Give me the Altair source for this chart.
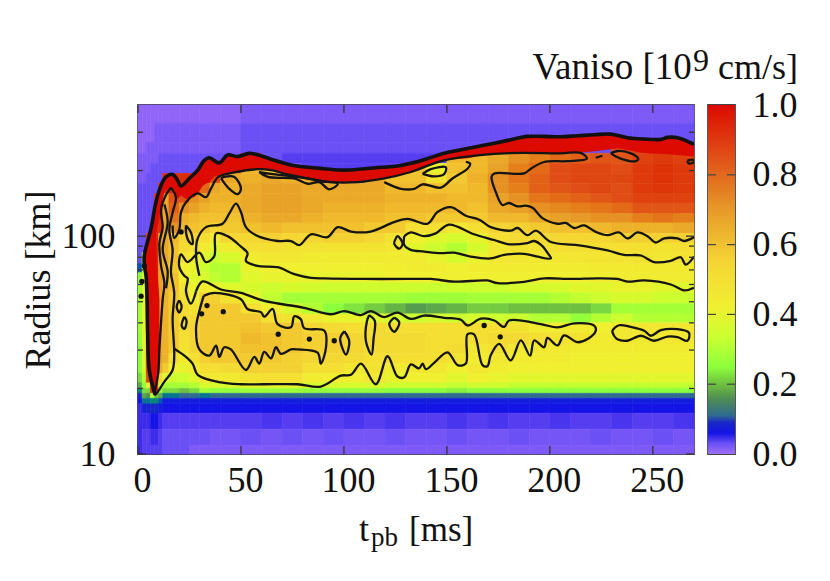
import altair as alt
import pandas as pd

FONT = "Liberation Serif"
# time column edges (ms) and radius row edges (km), top to bottom
time_edges = [0,2,4,6,8,10,12,15,20,25,30,35,40,50,60,70,80,90,100,110,120,130,140,150,160,170,180,190,200,210,220,230,240,250,260,270]
radius_edges = [400,330,270,240,216,194,175,157,142,127,115,103,93,84,75,68,61,55,49,44,40,36,32,29,26,23.5,21.2,20,19,18,17,15.4,13,11,10]
# Vaniso x 100 for each time column, from the largest radius to the smallest
columns = [
[1,1,1,2,2,2,3,3,3,3,3,3,3,3,10,25,28,28,28,28,28,26,25,25,25,22,18,14,8,6,5,5,5,5],
[1,1,1,2,2,2,3,3,3,3,3,3,3,30,35,38,38,38,38,38,38,38,38,38,36,30,25,22,18,12,8,5,4,4],
[1,1,2,2,2,3,3,3,3,3,3,95,95,95,95,95,95,95,95,95,95,95,95,95,95,90,40,22,16,12,8,5,4,4],
[1,1,2,2,3,3,3,3,3,3,3,95,95,95,95,95,95,95,95,95,95,95,95,95,95,95,95,95,30,14,9,6,5,4],
[1,2,2,2,3,3,3,95,95,95,95,95,95,95,95,95,95,95,95,95,95,95,95,95,95,95,95,95,20,14,9,6,5,4],
[1,2,2,3,3,3,95,95,95,95,95,68,68,68,68,68,68,68,68,68,68,68,68,68,66,55,35,25,18,10,7,5,4,4],
[1,2,2,3,3,95,95,66,66,66,66,66,66,66,64,64,64,64,64,64,64,64,64,64,58,38,28,22,12,7,6,4,3,3],
[1,2,2,3,3,95,95,85,82,78,72,62,60,60,58,60,60,58,58,58,58,58,58,50,42,34,28,22,12,7,6,4,3,3],
[1,2,2,3,3,95,95,85,72,64,62,55,52,47,42,42,47,50,52,52,52,50,48,44,40,34,28,20,11,7,6,4,3,3],
[1,2,2,3,3,95,90,72,68,62,60,55,50,42,40,38,40,42,48,52,55,55,55,50,45,38,30,22,11,7,6,4,3,2],
[1,2,2,3,95,95,80,68,64,60,58,50,44,38,34,36,44,56,58,58,58,58,58,56,50,46,36,28,12,7,6,4,3,2],
[1,2,2,3,95,88,66,64,62,60,55,44,38,33,30,32,42,56,58,58,58,58,58,58,50,46,36,26,11,7,6,4,2.5,2],
[1,2,2,3,95,66,64,64,62,60,58,54,44,36,30,30,38,48,58,58,58,58,58,58,52,45,36,26,11,7,6,4,2.5,2],
[2,3,3,95,62,64,66,66,66,64,60,54,50,44,40,38,36,40,50,58,60,62,60,58,56,48,38,27,11,7,6,4,3,2],
[2,3,3,3,60,66,68,68,68,66,62,56,50,46,42,40,34,32,44,50,58,60,60,58,56,50,38,27,11,7,6,4.5,2.5,2],
[2,3,3,4,3,64,68,68,68,66,60,54,48,46,42,40,36,28,36,48,58,58,58,56,56,50,38,27,11,7,6,4,3,2],
[2,3,3,4,4,66,66,66,66,64,60,54,48,44,42,40,35,28,30,46,54,56,56,54,50,44,36,26,11,7,6,4.5,2.5,2],
[2,3,3,4,4,3,66,66,64,62,60,56,48,44,42,40,34,28,25,40,52,56,56,54,50,44,36,26,11,7,6,4,3,2],
[2,3,3,4,4,3,66,66,64,62,60,56,48,44,42,40,34,28,23,40,50,54,54,52,46,42,36,26,11,7,6,4.5,2.5,2],
[2,3,3,4,4,66,66,66,64,62,58,54,48,44,42,40,34,28,21,38,52,52,52,50,48,46,36,26,11,7,6,4,2.5,2],
[2,3,3,4,4,60,62,64,62,60,58,48,46,44,43,42,34,28,19,36,50,52,52,50,44,40,34,25,11,7,6,4.5,3,2],
[2,3,3,4,60,60,62,64,62,60,50,42,38,44,44,42,34,27,17,34,50,52,52,50,46,42,34,25,11,7,6,4,2.5,2],
[2,3,3,4,40,48,60,64,62,58,50,38,34,40,44,42,33,27,18,36,50,50,50,50,46,42,34,25,11,7,6,4,2.5,2],
[2,3,3,62,60,58,60,62,62,58,46,36,30,36,42,42,34,27,19,34,50,50,52,48,42,38,32,24,11,7,6,4.5,3,2],
[2,3,3,62,62,64,62,62,60,58,50,40,36,40,44,42,34,28,21,36,50,50,46,44,46,42,34,25,11,7,6,4,2.5,2],
[2,3,3,66,68,72,72,68,66,62,55,50,46,46,44,42,34,28,21,34,50,52,50,46,44,40,34,25,11,7,6,4.5,2.5,2],
[2,3,3,72,76,78,76,72,68,62,56,52,48,46,44,42,36,28,20,34,48,52,46,44,42,38,32,25,11,7,6,4,3,2],
[2,3,3,76,80,82,82,78,72,66,58,52,48,46,44,42,36,28,20,30,44,50,46,44,42,38,32,25,11,7,6,4,2.5,2],
[2,3,3,80,86,86,84,80,74,68,60,54,50,46,44,42,36,30,20,30,44,48,46,44,42,38,32,25,11,7,6,4.5,2.5,2],
[2,3,3,82,88,88,86,82,76,70,60,54,50,47,44,42,38,32,20,26,44,48,44,42,42,38,32,25,11,7,6,4,2.5,2],
[2,3,3,84,88,88,88,84,78,72,62,54,50,47,45,43,38,34,22,30,42,44,44,42,42,38,32,25,11,7,6,4,3,2],
[2,3,86,84,86,88,86,86,80,72,64,56,50,47,45,44,40,36,28,34,46,46,44,42,42,38,32,25,11,7,6,4.5,2.5,2],
[2,3,90,90,92,92,92,90,84,76,64,56,50,48,45,44,40,36,28,30,46,46,44,42,42,38,32,25,11,7,6,4,2.5,2],
[2,3,3,92,94,94,93,90,84,78,64,56,48,46,45,44,38,34,28,30,46,46,44,42,42,38,32,25,11,7,6,4,3,2],
[2,3,3,90,92,92,92,90,84,76,66,56,50,48,45,44,38,34,28,30,46,46,44,42,42,38,32,25,11,7,6,4.5,2.5,2],
]
# colour bar stops
stop_values = [0,0.03,0.06,0.09,0.11,0.16,0.2,0.25,0.33,0.42,0.55,0.7,0.85,1.0]
stop_colors = ["#a070fa","#6a50f5","#1414e6","#1828c8","#2f6a90","#4f9050","#6fc040","#8cff3c","#c8ff30","#f0f030","#f5d535","#e69a28","#e05018","#dc0a00"]
# red shock-front bands: t, outer radius, inner radius
spike_band = [(3.1,80,72),(3.9,88,64),(4.4,93,50),(4.7,96,36),(5.5,103,24),(6.5,112,21),(8.0,135,18.9),(8.5,141,18.8),(9.0,85,20),(9.2,73,21),(9.9,60,24),(10.4,51,31)]
front_band = [(8.7,143,100),(11.2,171,137),(13,183,161),(13.6,187,163),(16.8,192,165),(18.4,185,155),(19.3,180,148),(20.9,170,154),(23.3,178,148),(24.9,184,150),(27.3,195,151),(29,201,157),(31.4,218,170),(32.2,223,172),(34.6,229,177),(37,223,188),(39.5,217,190),(43.5,236,194),(46.8,233,196),(48.4,232,197),(54,240,200),(58,236,203),(64.6,226,201),(72.7,215,192),(82.4,207,184),(93.7,203,177),(100,201,177),(106.6,202,177),(110,204,178),(119.6,207,184),(126,210,190),(132.5,220,197),(140.6,227,210),(148.7,240,223),(160,252,228),(168,261,236),(176,270,240),(189,287,238),(197,287,240),(205.3,286,240),(215,288,242),(223,292,246),(233,290,253),(237.7,283,248),(246,279,240),(255.5,280,238),(262,283,236),(270,264,232)]
# contours: (t ms, radius km)
shock = [(8.3,18.7),(5.5,24.2),(4.7,36.3),(4.4,51.4),(3.9,66),(3.1,73),(3.1,82),(6.3,108),(8.7,143),(11.2,171),(13.6,187),(16.8,192),(19.3,180),(20.9,170),(24.9,184),(29,201),(32.2,223),(34.6,229),(39.5,217),(43.5,236),(48.4,232),(54,240),(59.7,234),(66.2,223),(74.3,212),(82.4,207),(90.5,204),(100,201),(110,204),(118,207),(126,210),(132.5,216),(140.6,227),(148.7,240),(156.8,249),(164.9,258),(173,267),(181,277),(189,287),(197,287),(205,286),(213.4,289),(221.5,292),(229.6,294),(237.7,283),(245.8,279),(253.9,278),(257.1,284),(262,283),(270,264)]
strip = [(16,167),(13.6,155),(11.2,132),(12,110),(10.4,93),(11.2,73),(12.8,61),(12,51.4),(11.2,40.3),(10.4,30.5),(9.9,23.8),(8.3,18.7),(12.8,21.5),(16.8,24.3),(17.6,28.5),(16.8,41.7),(17.6,55),(16,68),(16.8,86.7),(15.2,107),(16.8,128),(18.4,151),(16,167)]
strip_inner = [(12.8,140),(14.4,116),(12,86.7),(14.4,68.8),(13.6,57.7)]
front_inner = [(16.8,112),(17.6,98),(20,107),(20.9,129),(23.3,143),(29,157),(33,151),(35.4,165),(39,187),(46.8,196),(58,203),(64.6,201),(72.7,192),(82.4,184),(93.7,177),(106.6,177),(119.6,184),(132.5,197),(148.7,223),(177.8,240),(205.3,240),(215,241),(218,227),(208.6,221),(197.2,219),(190.8,204),(187.5,194),(173,194),(171.7,187),(173.8,159),(177,139),(180.2,142),(184.3,137),(188.3,138),(191.6,135),(196.4,121),(203.7,114),(207.7,115),(211.8,109),(216.6,112),(222.3,104.6),(228,101),(233.6,104),(237.7,97.6),(242.5,104),(247.4,100),(251.4,93.5),(255.5,97.6),(262,97.6),(265.2,95),(270,99)]
contour_b = [(29.8,65.8),(28.2,81),(29,97.6),(33,110),(41.1,114),(44.3,127),(47.6,141),(50,129),(52.4,110),(57.3,101),(67.8,95),(74.3,95),(78.3,91),(84,102),(92,99),(97,110),(103.4,105),(113,105),(124.4,116),(131,120),(140.6,114),(145.4,129),(151.9,136),(159.2,124),(165.7,119),(171.3,110),(181,106),(184.3,109),(189.1,101),(193.2,106),(200.5,94),(213.4,91),(228,86),(236,82),(244.2,81.5),(250.6,76),(258.7,77),(263.6,80),(266,74),(270,80.5)]
contour_c = [(28.2,55.8),(25.7,49),(23.3,55.8),(24.1,64),(22.5,65.8),(20,72.8),(20.9,82.6),(24.1,76),(29.8,84),(33,76),(37,80.7),(37.9,103),(43.5,100),(50,89.5),(53.2,83.5),(52.4,77),(58,73),(67.8,72),(75.9,67),(84,64.4),(90.5,64),(110,63.6),(131,63.6),(142.2,63.6),(153.5,61.8),(169.7,62.6),(174.6,60.9),(187.5,61.7),(197.2,64),(210.2,63.6),(223.1,64),(232.8,63.6),(237.7,61.9),(245.8,62.6),(258.7,60),(265.2,56.4),(270,58)]
contour_d = [(28.2,55.8),(31.4,62),(40.3,56.9),(50,54.9),(61.3,50.4),(80.7,46.9),(93.7,43.8),(100.2,45.3),(108.3,43.4),(113,45.3),(119.6,42.5),(126,44.6),(132.5,41.7),(139,43.2),(148.7,42.2),(156.8,41.3),(160,38.9),(166.5,41.8),(173,41),(177.8,38.3),(180.2,41),(195.6,39.5),(203.7,38.1),(211.8,39.8),(221.5,38.8),(222.3,36.8),(218.3,33.7),(213.4,32.6),(206.9,35),(203.7,31.5),(198.8,34.1),(197.2,30.9),(192.4,33.2),(190.4,28.3),(185.9,33.2),(181,26.9),(175.4,32),(171.3,28.4),(169.7,25.3),(167.3,25.6),(163.2,35.4),(160,35.4),(159.2,26),(155.2,25.6),(150.3,29.3),(143.8,26.2),(139.8,24.5),(138.2,26),(136.5,24.7),(132.5,25.8),(129.3,22.5),(126,22.7),(121.2,28.1),(115.5,20.9),(108.3,26),(103.4,23.1),(98.5,22.9),(88.8,20.4),(77.5,20.9),(61.3,20.9),(50,20.9),(40.3,21.3),(29,23.1),(26.5,26),(22.5,28.3),(19.3,29.7),(17.6,30.4)]
contour_e = [(31.9,53.2),(37.1,54.9),(50,51.3),(53.2,46.3),(59.7,44.8),(61.3,42.7),(65.4,46.3),(67.8,39.5),(74.3,38.2),(75.9,42.9),(79.1,41.5),(80.7,37.8),(90.5,36.8),(91.3,30.9),(88.8,26),(87.2,29.2),(77.5,30.2),(74.3,30.2),(69.4,28.8),(67,30.9),(64.6,27.5),(61.3,29.4),(58.9,26),(56.5,27.9),(52.4,24.3),(45.1,30.2),(41.9,30.9),(39.5,27.9),(37.9,31.4),(34.6,28.3),(29.8,30.2),(28.2,37.9),(29.8,45.3),(31.9,53.2)]
contour_f = [(231.2,34.9),(230.4,36.8),(233.6,39),(239.3,38.3),(245.8,36.8),(249,34.9),(253.9,37),(262,37.4),(267.6,36),(266.8,33.1),(262,34.4),(257.1,34.6),(250.6,33.1),(244.2,34.9),(237.7,33.1),(232.8,33.6),(231.2,34.9)]
contour_g = [(129.3,100),(132.5,104),(139,100),(144.6,103),(151,113),(163.2,102),(173,96),(179.4,92),(189.1,93),(192.4,95),(196.4,90),(198.8,84),(200.5,79),(194,80.5),(187.5,83),(177.8,82),(171.3,79),(161.6,80.5),(153.5,84),(147,83.5),(139,85),(132.5,86.5),(129.3,91),(129.3,100)]
contour_h = [(119.6,177),(127.7,165),(134.2,165),(138.2,173),(147,167),(152.7,184),(160,204),(161.3,215),(159.2,219)]
loops = [
[(40.3,184),(41.9,187),(46.8,187),(50,165),(48.4,156),(44.3,165),(40.3,184)],
[(23.3,112),(25.7,104),(26.5,92),(24.9,94),(23.3,104),(23.3,112)],
[(58.9,197),(63,187),(75.9,184),(82.4,174),(88,177),(92.9,164),(97,174),(88.8,179),(77.5,187),(64.6,193),(58.9,197)],
[(138.2,193),(142.2,203),(149.5,207),(148.7,193),(143.8,188),(138.2,193)],
[(229.6,240),(232.8,246),(239.3,240),(242.9,227),(241.7,221),(234.4,227),(229.6,240)],
[(222.3,229),(225.5,234)],
[(266.8,222),(269.7,224),(269.7,218),(267.3,216),(266.8,222)],
[(125.2,97.6),(124.4,92.5),(126.9,87.6),(128.5,92.5),(126,100),(125.2,97.6)],
[(20,50.8),(21.2,47.6),(20,44.6),(18.8,47.6),(20,50.8)],
[(22.5,42.7),(23.6,40.7),(22.5,37.5),(21.2,38.8),(22.5,42.7)],
[(100.2,36.6),(102.6,32.9),(101,28.6),(98.2,33.9),(100.2,36.6)],
[(112.3,43.4),(115,40.8),(114.4,33.9),(113.4,28.6),(110.7,32.9),(111.2,40.8),(112.3,43.4)],
[(124.4,42.3),(126.9,40.1),(124.4,36.4),(122,39.5),(124.4,42.3)],
]
dots_t = [33.5,30.9,41.4,68.1,83.2,95.3,168.1,175.9,20.9,3.1,1.9,1.5]
dots_r = [48,44,45,35.5,33.7,33.1,38.9,34.5,104.6,73,62,53]
x_ticks = [0,50,100,150,200,250]
y_major = [10,100]
y_minor = [20,30,40,50,60,70,80,90,200,300]
bar_ticks = [0.2,0.4,0.6,0.8]
bar_labels = [0,0.2,0.4,0.6,0.8,1.0]

W, H = 556, 349
INK = "#111"
xs = alt.Scale(domain=[0,270], nice=False, zero=False)
ys = alt.Scale(type="log", domain=[10,400], nice=False)
cs = alt.Scale(domain=stop_values, range=stop_colors, clamp=True)
AX = alt.Axis(values=x_ticks, title=None, grid=False, ticks=False, domain=False, labelFlush=False, labelOffset=4,
              labelFont=FONT, labelFontSize=36, labelColor=INK, labelPadding=9)
AY = alt.Axis(values=y_major, format="d", title="Radius [km]", grid=False, ticks=False, domain=False,
              labelFont=FONT, labelFontSize=36, labelColor=INK, labelPadding=23,
              titleFont=FONT, titleFontSize=36, titleFontWeight="normal", titleColor=INK, titlePadding=4)
NX = alt.X("t:Q", scale=xs, axis=AX)
NY = alt.Y("r:Q", scale=ys, axis=AY)

cells = []
for i, col in enumerate(columns):
    for j, v in enumerate(col):
        cells.append(dict(t0=time_edges[i], t1=time_edges[i+1], r0=radius_edges[j], r1=radius_edges[j+1], v=v/100))
heat = alt.Chart(pd.DataFrame(cells)).mark_rect(strokeWidth=0.6).encode(
    x=alt.X("t0:Q", scale=xs, axis=AX), x2="t1:Q",
    y=alt.Y("r0:Q", scale=ys, axis=AY), y2="r1:Q",
    color=alt.Color("v:Q", scale=cs, legend=None),
    stroke=alt.Stroke("v:Q", scale=cs, legend=None),
)

def band(rows):
    d = pd.DataFrame(rows, columns=["t","r","r2"])
    return alt.Chart(d).mark_area(color="#dc0a00", clip=True).encode(x=NX, y=NY, y2="r2:Q")

def contour_frame(named):
    out = []
    for name, pts in named:
        for k, (t, r) in enumerate(pts):
            out.append(dict(id=name, k=k, t=t, r=r))
    return pd.DataFrame(out)

thin = [("strip",strip),("strip_inner",strip_inner),("front_inner",front_inner),("b",contour_b),("c",contour_c),("d",contour_d),("e",contour_e),("f",contour_f),("g",contour_g),("h",contour_h)] + [(f"l{i}",p) for i,p in enumerate(loops)]
lines = alt.Chart(contour_frame(thin)).mark_line(color="#151515", strokeWidth=2.3, clip=True, interpolate="catmull-rom").encode(x=NX, y=NY, detail="id:N", order="k:Q")
shock_line = alt.Chart(contour_frame([("shock",shock)])).mark_line(color="#111", strokeWidth=3.6, clip=True, interpolate="catmull-rom").encode(x=NX, y=NY, detail="id:N", order="k:Q")
dots = alt.Chart(pd.DataFrame({"t":dots_t,"r":dots_r})).mark_point(filled=True, color="#111", size=28, opacity=1, clip=True).encode(x=NX, y=NY)

tx = pd.DataFrame({"t":x_ticks})
tick_kw = dict(color="#333", strokeWidth=1.3)
ticks = [
    alt.Chart(tx).mark_rule(**tick_kw).encode(x=NX, y=alt.value(H-8), y2=alt.value(H)),
    alt.Chart(tx).mark_rule(**tick_kw).encode(x=NX, y=alt.value(0), y2=alt.value(8)),
    alt.Chart(pd.DataFrame({"r":y_major})).mark_rule(**tick_kw).encode(y=NY, x=alt.value(0), x2=alt.value(8)),
    alt.Chart(pd.DataFrame({"r":y_major})).mark_rule(**tick_kw).encode(y=NY, x=alt.value(W-8), x2=alt.value(W)),
    alt.Chart(pd.DataFrame({"r":y_minor})).mark_rule(**tick_kw).encode(y=NY, x=alt.value(0), x2=alt.value(5)),
    alt.Chart(pd.DataFrame({"r":y_minor})).mark_rule(**tick_kw).encode(y=NY, x=alt.value(W-5), x2=alt.value(W)),
]

def label(s, x, y, size=36):
    return alt.Chart(pd.DataFrame({"s":[s]})).mark_text(font=FONT, fontSize=size, align="left", baseline="alphabetic", color=INK).encode(
        x=alt.value(x), y=alt.value(y), text="s:N")

texts = [label("t",221,436), label("pb",233,441,27), label("[ms]",271,436,35),
         label("Vaniso [10",394.5,-26,37), label("9",555,-34,32), label("cm/s]",580,-26)]

main = alt.layer(heat, band(spike_band), band(front_band), lines, shock_line, dots, *ticks, *texts).properties(width=W, height=H)

grad = alt.Gradient(gradient="linear", x1=0, x2=0, y1=1, y2=0,
    stops=[alt.GradientStop(offset=o, color=c) for o, c in zip(stop_values, stop_colors)])
by = alt.Scale(domain=[0,1], nice=False, zero=False)
BAX = alt.Axis(orient="right", values=bar_labels, format=".1f", title=None, grid=False, ticks=False, domain=False,
               labelFont=FONT, labelFontSize=36, labelColor=INK, labelPadding=17)
bar_rect = alt.Chart(pd.DataFrame({"lo":[0],"hi":[1]})).mark_rect(color=grad).encode(
    x=alt.value(0), x2=alt.value(27),
    y=alt.Y("lo:Q", scale=by, axis=BAX), y2="hi:Q")
bt = pd.DataFrame({"v":bar_ticks})
BY = alt.Y("v:Q", scale=by, axis=BAX)
bar = alt.layer(
    bar_rect,
    alt.Chart(bt).mark_rule(color="#444", strokeWidth=1.2).encode(y=BY, x=alt.value(0), x2=alt.value(8)),
    alt.Chart(bt).mark_rule(color="#444", strokeWidth=1.2).encode(y=BY, x=alt.value(19), x2=alt.value(27)),
).properties(width=27, height=H)

chart = alt.hconcat(main, bar, spacing=14, bounds="flush").properties(
    padding={"left":11,"top":36,"right":5,"bottom":5},
).configure_view(stroke="#444", strokeWidth=1.8)
chart.save("out.html", embed_options={"renderer":"svg","actions":False})
